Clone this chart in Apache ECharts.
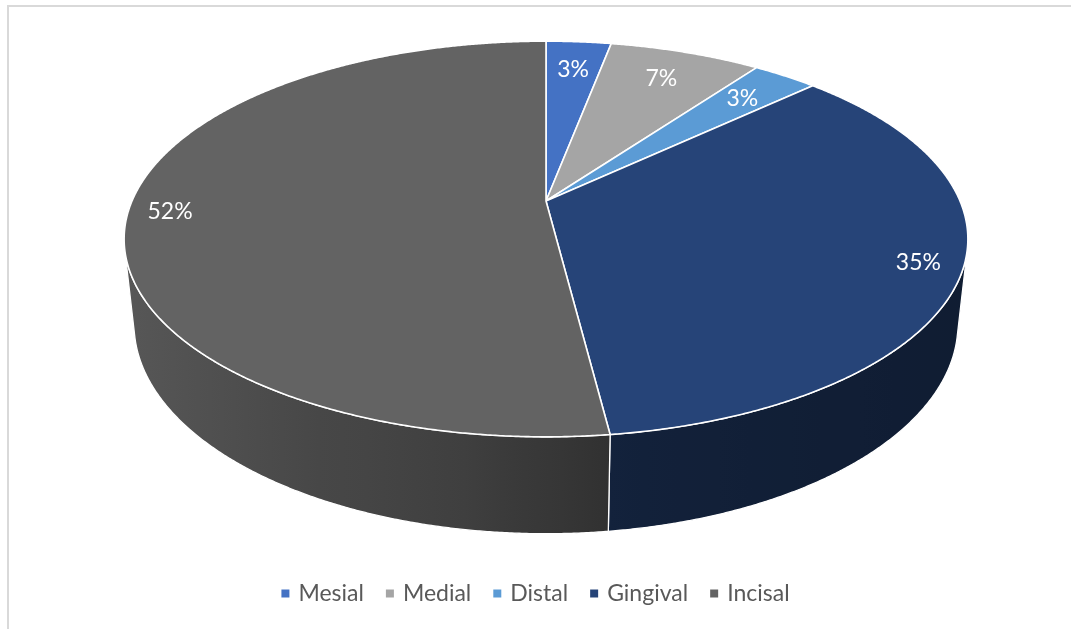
<!DOCTYPE html>
<html>
<head>
<meta charset="utf-8">
<script src="https://cdn.jsdelivr.net/npm/echarts@6/dist/echarts.min.js"></script>
<style>
  html, body { margin: 0; padding: 0; background: #fff; }
  #chart { width: 1071px; height: 629px; }
</style>
</head>
<body>
<div id="chart"></div>
<script>
// Share of each site, in percent
const categories = ['Mesial', 'Medial', 'Distal', 'Gingival', 'Incisal'];
const shares = [3, 7, 3, 35, 52];
const palette = ['#4472C4', '#A5A5A5', '#5B9BD5', '#264478', '#636363'];

// Perspective view of the pie disc: camera tilt, distance and disc thickness in radii
const VIEW = {
  cx: 546, cy: 201, radius: 414,
  dist: 4.62, tilt: 27.4 * Math.PI / 180, depth: 0.234
};

function project(X, Y, Z) {
  const s = Math.sin(VIEW.tilt), c = Math.cos(VIEW.tilt);
  const d = VIEW.dist - (Y * c + Z * s);
  const k = VIEW.dist / d;
  return [VIEW.cx + VIEW.radius * X * k, VIEW.cy - VIEW.radius * (-Y * s + Z * c) * k];
}
// angle measured clockwise from the back of the disc (12 o'clock)
function rim(theta, r, Z) {
  return project(r * Math.sin(theta), -r * Math.cos(theta), Z);
}

const total = shares.reduce((a, b) => a + b, 0);
const starts = [];
let acc = 0;
shares.forEach(v => { starts.push(acc / total * 2 * Math.PI); acc += v; });

// the side wall faces the camera only within this angular window
const visLimit = Math.acos(-1 / (VIEW.dist * Math.cos(VIEW.tilt)));

// side lighting: brighter on the left, darker towards the right
const shadeStops = [[125, 0.88], [300, 0.73], [450, 0.65], [617, 0.49], [800, 0.45], [970, 0.42]];
function shadeAt(x) {
  if (x <= shadeStops[0][0]) return shadeStops[0][1];
  for (let i = 1; i < shadeStops.length; i++) {
    if (x <= shadeStops[i][0]) {
      const [x0, f0] = shadeStops[i - 1], [x1, f1] = shadeStops[i];
      return f0 + (f1 - f0) * (x - x0) / (x1 - x0);
    }
  }
  return shadeStops[shadeStops.length - 1][1];
}
function scaleColor(hex, f) {
  const n = parseInt(hex.slice(1), 16);
  const r = Math.round(((n >> 16) & 255) * f);
  const g = Math.round(((n >> 8) & 255) * f);
  const b = Math.round((n & 255) * f);
  return 'rgb(' + r + ',' + g + ',' + b + ')';
}

function renderSlice(i) {
  return function (params, api) {
    const v = api.value(0);
    const a0 = starts[i];
    const a1 = a0 + v / total * 2 * Math.PI;
    const children = [];

    // outer wall (front-facing part only)
    const w0 = Math.max(a0, visLimit), w1 = Math.min(a1, 2 * Math.PI - visLimit);
    if (w1 > w0) {
      const n = Math.max(8, Math.ceil((w1 - w0) / 0.005));
      const topPts = [], botPts = [];
      for (let j = 0; j <= n; j++) {
        const t = w0 + (w1 - w0) * j / n;
        topPts.push(rim(t, 1, 0));
        botPts.push(rim(t, 1, -VIEW.depth));
      }
      const pts = topPts.concat(botPts.reverse());
      const xs = pts.map(p => p[0]);
      const xmin = Math.min(...xs), xmax = Math.max(...xs);
      const stops = [];
      for (let j = 0; j <= 10; j++) {
        const x = xmin + (xmax - xmin) * j / 10;
        stops.push({ offset: j / 10, color: scaleColor(palette[i], shadeAt(x)) });
      }
      children.push({
        type: 'polygon',
        shape: { points: pts },
        style: {
          fill: new echarts.graphic.LinearGradient(xmin, 0, xmax, 0, stops, true),
          stroke: '#ffffff', lineWidth: 1.3, lineJoin: 'round'
        }
      });
    }

    // top face
    const n2 = Math.max(4, Math.ceil((a1 - a0) / 0.005));
    const top = [project(0, 0, 0)];
    for (let j = 0; j <= n2; j++) top.push(rim(a0 + (a1 - a0) * j / n2, 1, 0));
    children.push({
      type: 'polygon',
      shape: { points: top },
      style: { fill: palette[i], stroke: '#ffffff', lineWidth: 1.6, lineJoin: 'round' }
    });

    // percentage label on the top face
    const frac = v / total;
    const lp = rim((a0 + a1) / 2, frac > 0.2 ? 0.9 : 0.8, 0);
    children.push({
      type: 'text',
      style: {
        text: Math.round(frac * 100) + '%',
        x: lp[0], y: lp[1],
        fill: '#ffffff', fontSize: 23, fontFamily: 'Lato',
        align: 'center', verticalAlign: 'middle'
      }
    });
    return { type: 'group', children: children };
  };
}

const chart = echarts.init(document.getElementById('chart'), null, { renderer: 'canvas' });
chart.setOption({
  animation: false,
  backgroundColor: '#ffffff',
  graphic: [{
    type: 'rect',
    shape: { x: 8, y: 6, width: 1200, height: 800 },
    style: { fill: 'none', stroke: '#d9d9d9', lineWidth: 2 },
    silent: true
  }],
  legend: {
    data: categories,
    left: 'center',
    top: 577,
    icon: 'rect',
    itemWidth: 8,
    itemHeight: 8,
    itemGap: 22,
    textStyle: { color: '#595959', fontSize: 23, fontFamily: 'Lato', padding: [0, 0, 0, 4] }
  },
  series: categories.map((name, i) => ({
    type: 'custom',
    name: name,
    coordinateSystem: 'none',
    itemStyle: { color: palette[i] },
    renderItem: renderSlice(i),
    data: [shares[i]]
  }))
});
</script>
</body>
</html>
